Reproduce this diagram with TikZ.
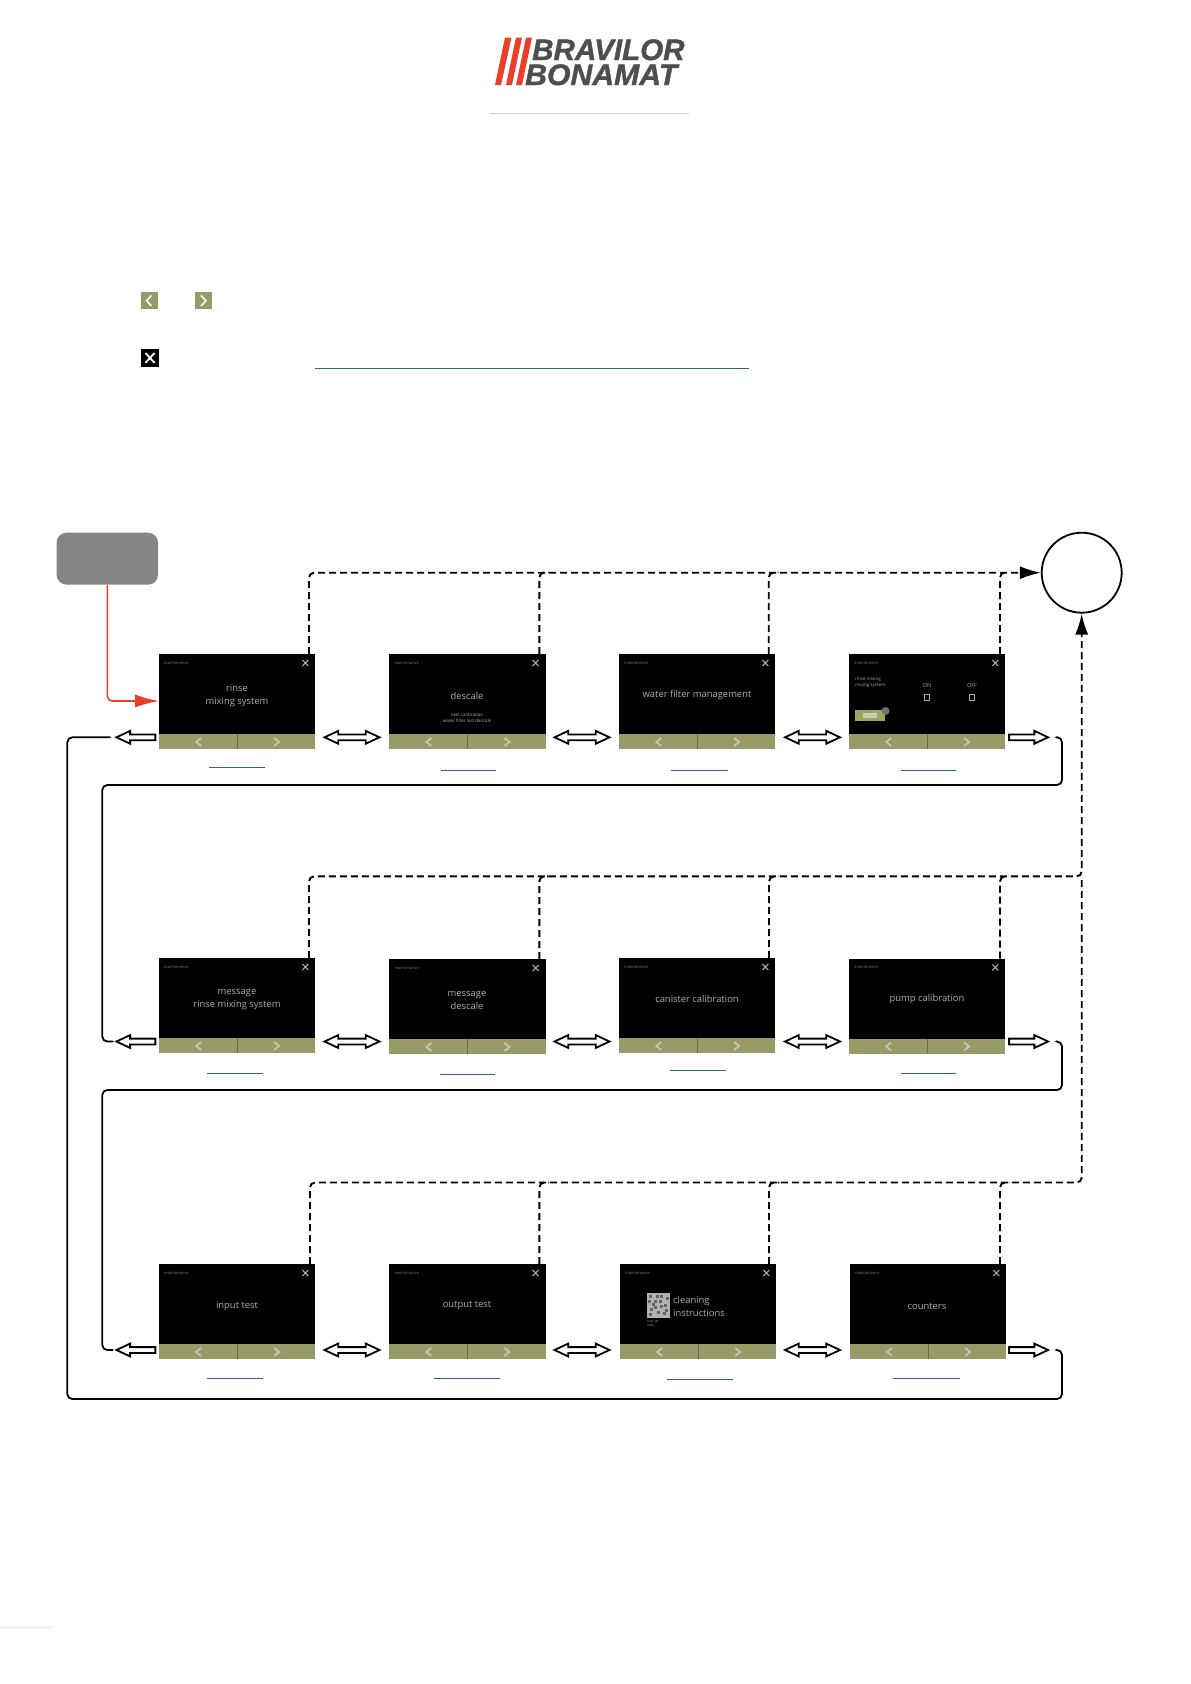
\documentclass[tikz,border=0pt]{standalone}
\usepackage{fontspec}
\setmainfont{Open Sans}
\newfontfamily\logofont[BoldItalicFeatures={FakeBold=1.3}]{Liberation Sans}
\usetikzlibrary{shapes.arrows,arrows.meta}
\definecolor{olive}{HTML}{989A68}
\definecolor{redx}{HTML}{E8402A}
\definecolor{linkb}{HTML}{2F6396}
\definecolor{logog}{HTML}{4C4F4E}
\definecolor{scrtxt}{HTML}{ADADAD}
\tikzset{
  screenbox/.style={fill=black,minimum width=156.3pt,minimum height=95pt,inner sep=0,outer sep=0,anchor=north west},
  scrlabel/.style={text=scrtxt,font=\fontsize{9.4}{13}\selectfont,inner sep=0,align=center},
  hdr/.style={text=scrtxt!70!black,font=\fontsize{4}{5}\selectfont,inner sep=0,anchor=west},
  tinylabel/.style={text=scrtxt,font=\fontsize{4.5}{6}\selectfont,inner sep=0,align=center},
  dbl/.style={draw=black,fill=white,line width=1.8pt,double arrow,double arrow tip angle=50,minimum height=55pt,minimum width=12pt,double arrow head extend=3.5pt,inner xsep=0,inner ysep=2pt,outer sep=0},
  sgl/.style={draw=black,fill=white,line width=1.8pt,single arrow,single arrow tip angle=50,minimum height=39pt,minimum width=12pt,single arrow head extend=3.5pt,inner xsep=0,inner ysep=2pt,outer sep=0},
  flow/.style={line width=1.8pt,rounded corners=5pt,line cap=round},
  dashline/.style={line width=1.9pt,dash pattern=on 7pt off 4pt,rounded corners=5pt},
  linkline/.style={draw=linkb,line width=0.8pt},
  tipK/.style={-{Latex[length=21pt,width=13pt,black]}}
}
% #1 name, #2 x, #3 y (top-left)
\newcommand{\screenat}[3]{%
  \node[screenbox] (#1) at (#2,#3) {};
  \fill[olive] ([yshift=15pt]#1.south west) rectangle (#1.south east);
  \draw[olive!70!black,line width=.5pt] ([yshift=15pt]#1.south) -- (#1.south);
  \node[hdr] at ([xshift=5pt,yshift=-9pt]#1.north west) {maintenance};
  \draw[scrtxt,line width=1.1pt] ([xshift=-13pt,yshift=-6pt]#1.north east) -- ([xshift=-7pt,yshift=-12pt]#1.north east)
     ([xshift=-7pt,yshift=-6pt]#1.north east) -- ([xshift=-13pt,yshift=-12pt]#1.north east);
  \draw[white!45!olive,line width=1.8pt] ([xshift=-36pt,yshift=11pt]#1.south) -- ([xshift=-41pt,yshift=7pt]#1.south) -- ([xshift=-36pt,yshift=3pt]#1.south);
  \draw[white!45!olive,line width=1.8pt] ([xshift=37pt,yshift=11pt]#1.south) -- ([xshift=42pt,yshift=7pt]#1.south) -- ([xshift=37pt,yshift=3pt]#1.south);
}
\begin{document}
\begin{tikzpicture}[x=1pt,y=-1pt]
\useasboundingbox (0,0) rectangle (1191,1684);
% logo
\fill[redx] (505,37.5) -- (511.5,37.5) -- (501,85) -- (495,85) -- cycle;
\fill[redx] (516,37.5) -- (522,37.5) -- (512,85) -- (506,85) -- cycle;
\fill[redx] (526,37.5) -- (532,37.5) -- (522,85) -- (516,85) -- cycle;
\node[inner sep=0,anchor=base west,text=logog,text height=21pt,text depth=0pt] (lg1) at (532,60) {\logofont\bfseries\itshape\fontsize{29.6}{30}\selectfont BRAVILOR};
\node[inner sep=0,anchor=base west,text=logog,text height=21pt,text depth=0pt,xscale=1.02] (lg2) at (525,85) {\logofont\bfseries\itshape\fontsize{29.6}{30}\selectfont BONAMAT};
\draw[black!15,line width=.8pt] (490,113.5) -- (689,113.5);
% legend icons
\fill[olive] (141.3,292) rectangle (158.3,309.3);
\draw[white,line width=1.6pt] (151.5,295.5) -- (146.5,300.7) -- (151.5,306);
\fill[olive] (194.6,292) rectangle (211.6,309.3);
\draw[white,line width=1.6pt] (201,295.5) -- (206,300.7) -- (201,306);
\fill[black] (141.3,349.3) rectangle (158.8,366.5);
\draw[white,line width=1.8pt] (145.5,353) -- (154.5,362.8) (154.5,353) -- (145.5,362.8);
\draw[linkline,line width=1pt] (315,368) -- (749,368);
% screens
\screenat{s11}{159}{654}
\screenat{s12}{389.3}{654}
\screenat{s13}{619}{654}
\screenat{s14}{849}{654}
\screenat{s21}{159}{958}
\screenat{s22}{389.3}{959}
\screenat{s23}{619}{958}
\screenat{s24}{849}{958.5}
\screenat{s31}{159}{1264}
\screenat{s32}{389.3}{1264}
\screenat{s33}{620}{1264}
\screenat{s34}{850}{1264}
% screen texts
\node[scrlabel] at (237,695.5) {rinse\\mixing system};
\node[scrlabel] at (467,695.5) {descale};
\node[tinylabel] at (467,717.5) {next calibration\\water filter last descale};
\node[scrlabel] at (697,695.5) {water filter management};
\node[tinylabel,anchor=west,align=left] at (855,682) {rinse mixing\\mixing system};
\node[tinylabel,font=\fontsize{5.5}{6}\selectfont] at (927,686) {ON};
\node[tinylabel,font=\fontsize{5.5}{6}\selectfont] at (972,686) {OFF};
\draw[scrtxt,line width=.7pt] (924.5,694) rectangle (929,700);
\draw[scrtxt,line width=.7pt] (969,694) rectangle (974,700);
\fill[olive!90!yellow] (855,710) rectangle (885,721);
\fill[white!50!olive] (863,713) rectangle (877,718);
\fill[black!55] (885.5,711) circle (4pt);
\node[scrlabel] at (237,999.5) {message\\rinse mixing system};
\node[scrlabel] at (467,1000.5) {message\\descale};
\node[scrlabel] at (697,999) {canister calibration};
\node[scrlabel] at (927,999) {pump calibration};
\node[scrlabel] at (237,1306) {input test};
\node[scrlabel] at (467,1306) {output test};
\node[scrlabel,align=left,anchor=west] at (673,1306) {cleaning\\instructions};
\node[scrlabel] at (927,1306) {counters};
\fill[black!30] (647,1293) rectangle (670,1318);
\foreach \i/\j in {649/1295,654/1300,660/1295,664/1304,650/1308,657/1311,663/1312,652/1303,666/1297,660/1305,648/1300,656/1295,649/1313,654/1306,665/1309,659/1300}{\fill[black!60] (\i,\j) rectangle ++(2.5,2.5);}
\node[tinylabel,font=\fontsize{3}{4}\selectfont,anchor=west,align=left] at (647,1323) {scan QR\\code};
% bidirectional arrows
\foreach \r/\yy in {1/737.3,2/1041.5,3/1350}{
  \node[dbl] (d\r a) at (352,\yy) {};
  \node[dbl] (d\r b) at (582,\yy) {};
  \node[dbl] (d\r c) at (812.5,\yy) {};
  \node[sgl,shape border rotate=180] (l\r) at (139,\yy) {};
  \node[sgl] (r\r) at (1025.5,\yy) {};
}
% exit circle and start box
\node[draw=black,line width=1.8pt,circle,minimum size=80pt,inner sep=0,fill=white] (exitc) at (1081.7,572.7) {};
\node[fill=black!48,rounded corners=10pt,minimum width=101.5pt,minimum height=52pt,inner sep=0] (start) at (107.3,558.7) {};
\draw[redx,line width=1.6pt,rounded corners=5pt,-{Latex[length=24pt,width=13pt,redx]}] (start.south) |- (s11.west |- 0,701);
% dashed lines: one trunk per row, with the other risers joining it
\coordinate (j2) at (1081.7,876.4);
\draw[dashline,tipK] ([xshift=-6.3pt]s11.north east) |- (exitc.west);
\draw[dashline] ([xshift=-6.3pt]s12.north east) -- ([xshift=-6.3pt,yshift=81.5pt]s12.north east) -- ([xshift=3pt,yshift=81.5pt]s12.north east);
\draw[dashline] ([xshift=-6.6pt]s13.north east) -- ([xshift=-6.6pt,yshift=81.5pt]s13.north east) -- ([xshift=3pt,yshift=81.5pt]s13.north east);
\draw[dashline] ([xshift=-5.3pt]s14.north east) -- ([xshift=-5.3pt,yshift=81.5pt]s14.north east) -- ([xshift=3pt,yshift=81.5pt]s14.north east);
\draw[dashline,tipK] ([xshift=-6.3pt]s21.north east) |- (j2) -- (exitc.south);
\draw[dashline] ([xshift=-6.3pt]s22.north east) -- ([xshift=-6.3pt,yshift=82.6pt]s22.north east) -- ([xshift=3pt,yshift=82.6pt]s22.north east);
\draw[dashline] ([xshift=-6.3pt]s23.north east) -- ([xshift=-6.3pt,yshift=81.6pt]s23.north east) -- ([xshift=3pt,yshift=81.6pt]s23.north east);
\draw[dashline] ([xshift=-5.3pt]s24.north east) -- ([xshift=-5.3pt,yshift=82.1pt]s24.north east) -- ([xshift=3pt,yshift=82.1pt]s24.north east);
\draw[dashline] ([xshift=-5.3pt]s31.north east) |- (1081.7,1182.5) -- (j2);
\draw[dashline] ([xshift=-6.3pt]s32.north east) -- ([xshift=-6.3pt,yshift=81.5pt]s32.north east) -- ([xshift=3pt,yshift=81.5pt]s32.north east);
\draw[dashline] ([xshift=-7.3pt]s33.north east) -- ([xshift=-7.3pt,yshift=81.5pt]s33.north east) -- ([xshift=3pt,yshift=81.5pt]s33.north east);
\draw[dashline] ([xshift=-6.3pt]s34.north east) -- ([xshift=-6.3pt,yshift=81.5pt]s34.north east) -- ([xshift=3pt,yshift=81.5pt]s34.north east);
% solid loops
\coordinate (p1) at (110,737.3);
\coordinate (p2) at (1056,1350);
\draw[flow] (p1) -- (67.3,737.3) -- (67.3,1399) -- (1062,1399) -- (1062,1350) -- (p2);
\coordinate (p3) at (1056,737.3);
\coordinate (p4) at (112.7,1041.5);
\draw[flow] (p3) -- (1062,737.3) -- (1062,785) -- (102.3,785) -- (102.3,1041.5) -- (p4);
\coordinate (p5) at (1056,1041.5);
\coordinate (p6) at (112.7,1350);
\draw[flow] (p5) -- (1062,1041.5) -- (1062,1090) -- (102.3,1090) -- (102.3,1350) -- (p6);
% link underlines
\draw[linkline] (209,767.3) -- (265,767.3);
\draw[linkline] (441,770) -- (496,770);
\draw[linkline] (671,770) -- (728,770);
\draw[linkline] (901,770) -- (956,770);
\draw[linkline] (207,1073) -- (263,1073);
\draw[linkline] (440,1074) -- (495,1074);
\draw[linkline] (670,1070) -- (726,1070);
\draw[linkline] (901,1073) -- (956,1073);
\draw[linkline] (207,1378) -- (263,1378);
\draw[linkline] (434,1378) -- (500,1378);
\draw[linkline] (667,1379) -- (733,1379);
\draw[linkline] (893,1378) -- (960,1378);
% page foot rule
\draw[black!12,line width=.8pt] (0,1627) -- (51,1627);
\end{tikzpicture}
\end{document}
